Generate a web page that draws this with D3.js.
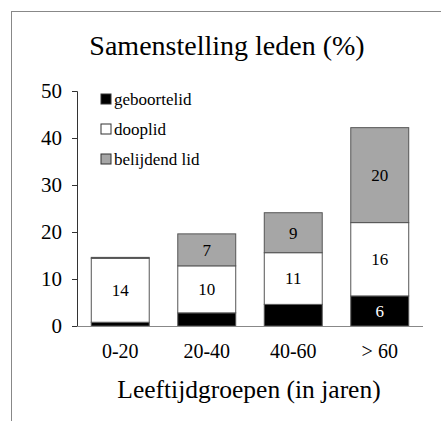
<!DOCTYPE html>
<html>
<head>
<meta charset="utf-8">
<script src="https://cdn.jsdelivr.net/npm/d3@7"></script>
<style>
  body { margin: 0; background: #fff; }
  text { font-family: "Liberation Serif", "Times New Roman", Times, "DejaVu Serif", serif; }
</style>
</head>
<body>
<svg width="441" height="421"></svg>
<script>
// leeftijdsgroepen en waarden per type lid (in %)
const groepen = ['0-20', '20-40', '40-60', '> 60'];
const geboortelid = [0.8, 2.8, 4.6, 6.4];
const dooplid = [13.6, 10.0, 11.0, 15.6];
const belijdendLid = [0.2, 6.8, 8.5, 20.2];
const reeksen = ['geboortelid', 'dooplid', 'belijdend lid'];
const yTicks = [0, 10, 20, 30, 40, 50];

const kleuren = ['#000000', '#ffffff', '#a6a6a6'];
const labelKleur = ['#ffffff', '#000000', '#000000'];
const serif = '"Liberation Serif", "Times New Roman", Times, "DejaVu Serif", serif';

const rows = groepen.map((g, i) => ({
  groep: g,
  'geboortelid': geboortelid[i],
  'dooplid': dooplid[i],
  'belijdend lid': belijdendLid[i]
}));

const stack = d3.stack().keys(reeksen)(rows);

const svg = d3.select('svg').attr('font-family', serif);

// kader om de grafiek (loopt door buiten beeld)
svg.append('rect')
  .attr('x', 11.5).attr('y', 11.5)
  .attr('width', 460).attr('height', 440)
  .attr('fill', 'none').attr('stroke', '#888').attr('stroke-width', 1);

const plotL = 77, plotR = 423, plotT = 91, plotB = 326;

const x = d3.scaleBand().domain(groepen).range([plotL, plotR]).paddingInner(0.33).paddingOuter(0.165);
const y = d3.scaleLinear().domain([0, 50]).range([plotB, plotT]);

svg.append('text')
  .attr('x', 227).attr('y', 55)
  .attr('text-anchor', 'middle')
  .attr('font-size', 28)
  .text('Samenstelling leden (%)');

// balken
const lagen = svg.selectAll('.laag')
  .data(stack)
  .enter()
  .append('g')
  .attr('fill', (d, i) => kleuren[i]);

lagen.selectAll('rect')
  .data(d => d.filter(s => s[1] - s[0] > 0))
  .enter()
  .append('rect')
  .attr('x', d => x(d.data.groep))
  .attr('width', x.bandwidth())
  .attr('y', d => y(d[1]))
  .attr('height', d => y(d[0]) - y(d[1]))
  .attr('stroke', '#555')
  .attr('stroke-width', 1);

// waarden in de balken
stack.forEach((laag, k) => {
  svg.append('g').selectAll('text')
    .data(laag.filter(s => s[1] - s[0] >= 5))
    .enter()
    .append('text')
    .attr('x', d => x(d.data.groep) + x.bandwidth() / 2)
    .attr('y', d => (y(d[0]) + y(d[1])) / 2)
    .attr('dy', '0.35em')
    .attr('text-anchor', 'middle')
    .attr('font-size', 17)
    .attr('fill', labelKleur[k])
    .text(d => Math.round(d[1] - d[0]));
});

// y-as
const yAxis = svg.append('g')
  .attr('transform', `translate(${plotL},0)`)
  .call(d3.axisLeft(y).tickValues(yTicks).tickSize(5).tickPadding(10))
  .attr('font-family', serif);
yAxis.select('.domain').attr('stroke', '#333');
yAxis.selectAll('.tick line').attr('stroke', '#333');
yAxis.selectAll('text').attr('font-size', 21).attr('fill', '#000');

// x-as
const xAxis = svg.append('g')
  .attr('transform', `translate(0,${plotB})`)
  .call(d3.axisBottom(x).tickSize(0).tickPadding(18))
  .attr('font-family', serif);
xAxis.select('.domain').attr('stroke', '#888').attr('d', `M${plotL},0.5H${plotR}`);
xAxis.selectAll('text').attr('font-size', 20).attr('fill', '#000');

svg.append('text')
  .attr('x', 249).attr('y', 398)
  .attr('text-anchor', 'middle')
  .attr('font-size', 25.5)
  .text('Leeftijdgroepen (in jaren)');

// legenda
const legenda = svg.append('g').selectAll('g')
  .data(reeksen)
  .enter()
  .append('g')
  .attr('transform', (d, i) => `translate(101,${99 + i * 30})`);

legenda.append('rect')
  .attr('x', 0).attr('y', -5)
  .attr('width', 10).attr('height', 10)
  .attr('fill', (d, i) => kleuren[i])
  .attr('stroke', '#333');

legenda.append('text')
  .attr('x', 13).attr('y', 0)
  .attr('dy', '0.35em')
  .attr('font-size', 17)
  .text(d => d);
</script>
</body>
</html>
